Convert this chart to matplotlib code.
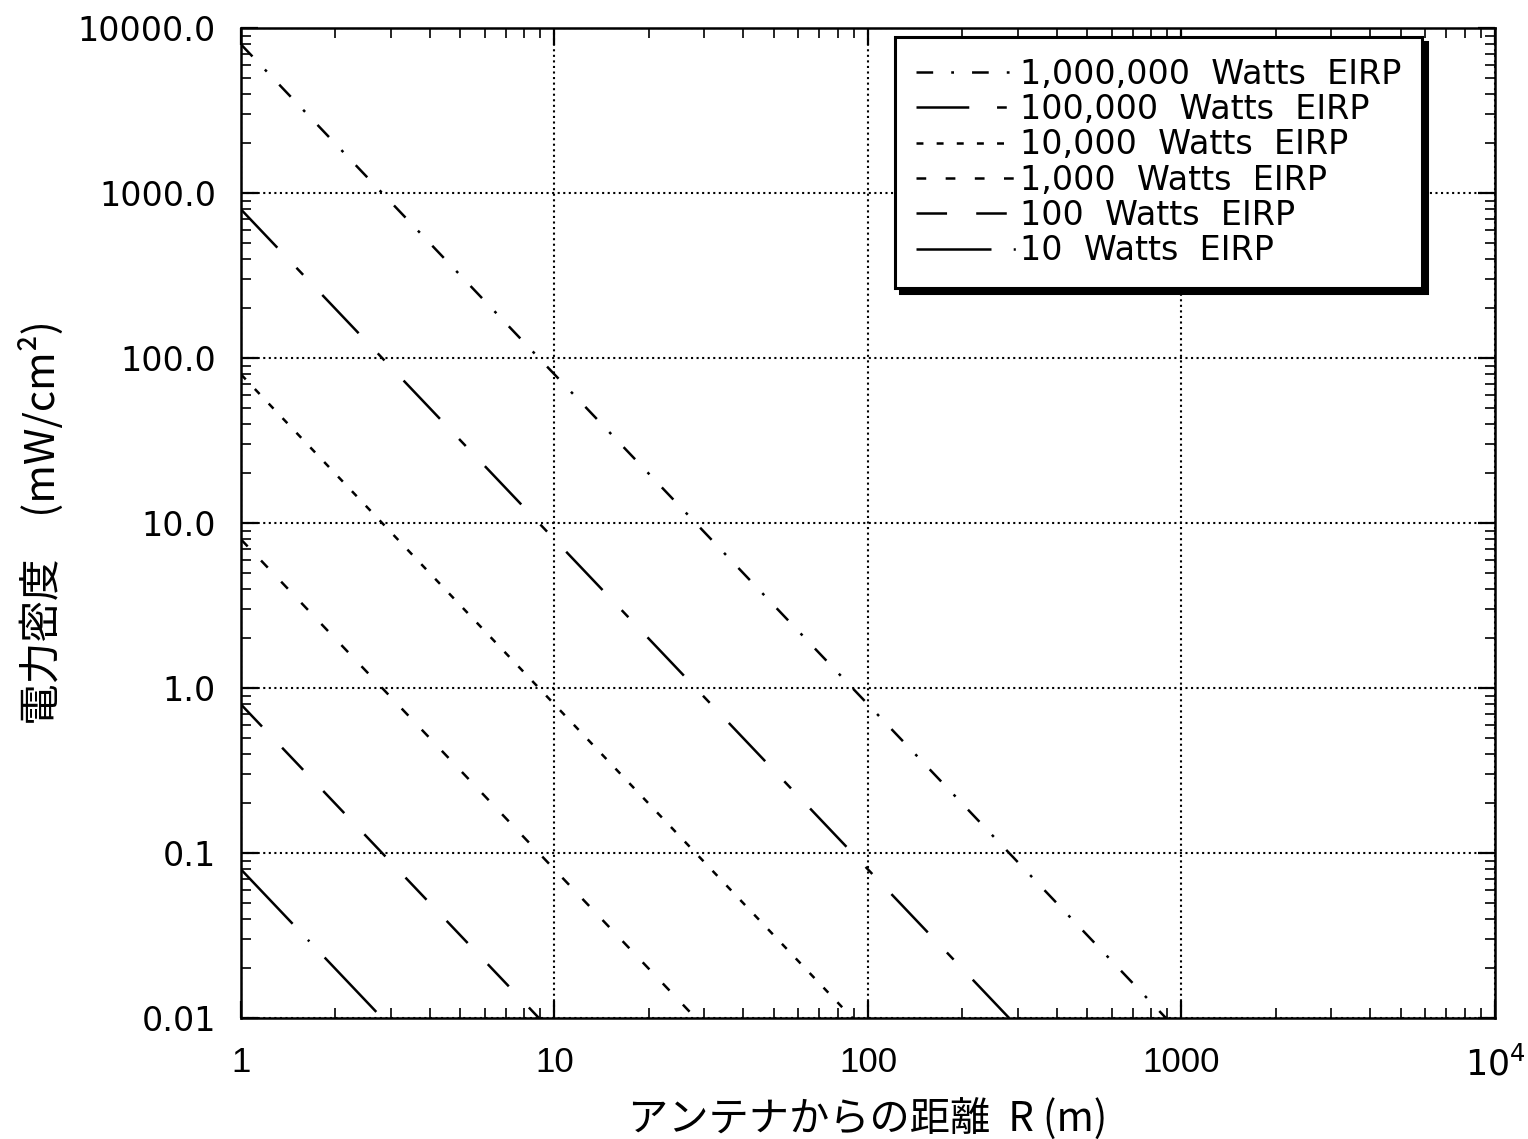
import numpy as np
import matplotlib
matplotlib.use('Agg')
import matplotlib.pyplot as plt
from matplotlib.ticker import FixedLocator, FixedFormatter, LogLocator, NullFormatter

plt.rcParams['font.family'] = ['DejaVu Sans', 'Noto Sans CJK JP']
plt.rcParams['lines.scale_dashes'] = False

# EIRP series (W), density read at R = 1 m and distance where line hits 0.01 mW/cm2
eirp_labels = ['1,000,000  Watts  EIRP', '100,000  Watts  EIRP', '10,000  Watts  EIRP',
               '1,000  Watts  EIRP', '100  Watts  EIRP', '10  Watts  EIRP']
density_at_1m = [7960, 796, 79.6, 7.96, 0.796, 0.0796]
range_at_floor = [892, 282, 89.2, 28.2, 8.92, 2.82]
floor_density = 0.01

line_styles = [(0, (12, 13, 2, 13)), (0, (38, 20, 7, 20)), (0, (5, 9.5)),
               (0, (7, 14)), (0, (22, 21)), (0, (54, 16, 1.5, 16))]

x_ticks = [1, 10, 100, 1000, 10000]
x_ticklabels = ['1', '10', '100', '1000', '$10^4$']
y_ticks = [0.01, 0.1, 1, 10, 100, 1000, 10000]
y_ticklabels = ['0.01', '0.1', '1.0', '10.0', '100.0', '1000.0', '10000.0']

fig = plt.figure(figsize=(15.28, 11.39), dpi=100)
ax = fig.add_axes([0.1577, 0.1062, 0.8207, 0.8692])

for lab, s1, r_end, ls in zip(eirp_labels, density_at_1m, range_at_floor, line_styles):
    ax.plot([1, r_end], [s1, floor_density], color='black', lw=1.8, linestyle=ls, label=lab)

ax.set_xscale('log')
ax.set_yscale('log')
ax.set_xlim(1, 10000)
ax.set_ylim(0.01, 10000)

ax.xaxis.set_major_locator(FixedLocator(x_ticks))
ax.xaxis.set_major_formatter(FixedFormatter(x_ticklabels))
ax.yaxis.set_major_locator(FixedLocator(y_ticks))
ax.yaxis.set_major_formatter(FixedFormatter(y_ticklabels))
ax.xaxis.set_minor_locator(LogLocator(base=10, subs=np.arange(2, 10)))
ax.yaxis.set_minor_locator(LogLocator(base=10, subs=np.arange(2, 10)))
ax.xaxis.set_minor_formatter(NullFormatter())
ax.yaxis.set_minor_formatter(NullFormatter())

ax.tick_params(which='both', direction='in', top=True, right=True, color='black')
ax.tick_params(which='major', length=12, width=1.6)
ax.tick_params(which='minor', length=7, width=1.2)
ax.tick_params(axis='y', which='major', pad=18, labelsize=24)
ax.tick_params(axis='x', which='major', pad=20, labelsize=25)
for lbl in ax.get_xticklabels():
    lbl.set_family('Liberation Sans')

ax.grid(True, which='major', color='black', linestyle=(0, (1.5, 2.5)), linewidth=1.5)
for sp in ax.spines.values():
    sp.set_linewidth(1.8)

ax.set_xlabel('アンテナからの距離  R (m)', family=['Noto Sans CJK JP', 'DejaVu Sans'],
              fontsize=29, labelpad=12)
ax.set_ylabel('電力密度\u3000(mW/cm²)', family=['Noto Sans CJK JP', 'DejaVu Sans'],
              fontsize=30, labelpad=10)

leg = ax.legend(loc='upper left', bbox_to_anchor=(0.5215, 0.991), borderaxespad=0,
                fontsize=24, handlelength=3.0, handletextpad=0.12, labelspacing=0.07,
                borderpad=0.62, fancybox=False, framealpha=1,
                shadow={'color': 'black', 'alpha': 1, 'ox': 4, 'oy': -4})
leg.get_frame().set_edgecolor('black')
leg.get_frame().set_linewidth(2.2)

fig.savefig('out.png', dpi=100)
